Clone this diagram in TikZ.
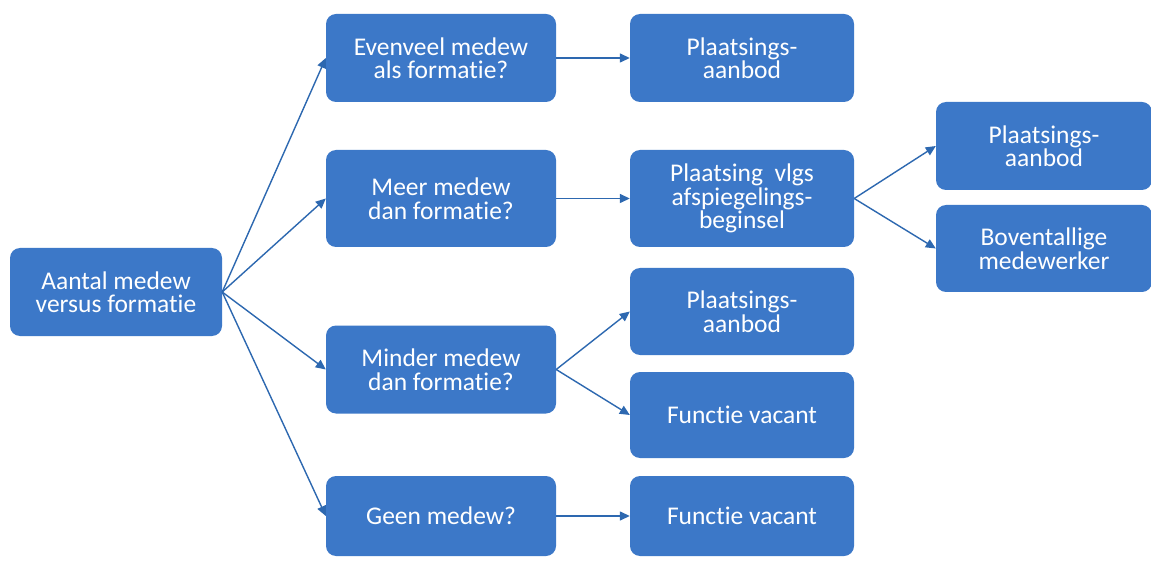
\documentclass[tikz,border=0pt]{standalone}
\usepackage{fontspec}
\setmainfont{Carlito}[Ligatures=NoCommon]
\usetikzlibrary{arrows.meta}
\definecolor{boxblue}{HTML}{3C78C8}
\definecolor{arrowblue}{HTML}{2D68B0}
\tikzset{
  box/.style={rectangle, rounded corners=10pt, fill=boxblue, text=white, align=center,
    font=\fontsize{25.5}{23.5}\selectfont, inner sep=0pt, minimum width=230pt, minimum height=88pt},
  conn/.style={arrowblue, line width=1.4pt, -{Triangle[length=10pt,width=9pt]}}
}
\begin{document}
\begin{tikzpicture}[x=1pt,y=-1pt]
\useasboundingbox[fill=white] (0,0) rectangle (1151,561);
\node[box, minimum width=212pt] (a) at (116,292) {Aantal medew\\versus formatie};
\node[box] (b1) at (441,58) {Evenveel medew\\als formatie?};
\node[box, minimum height=97pt] (b2) at (441,198.5) {Meer medew\\dan formatie?};
\node[box] (b3) at (441,369.5) {Minder medew\\dan formatie?};
\node[box, minimum height=80pt] (b4) at (441,516) {Geen medew?};
\node[box, minimum width=224pt] (c1) at (742,58) {Plaatsings-\\aanbod};
\node[box, minimum width=224pt, minimum height=97pt] (c2) at (742,198.5) {Plaatsing~ vlgs\\afspiegelings-\\beginsel};
\node[box, minimum width=224pt, minimum height=87pt] (c3) at (742,311.5) {Plaatsings-\\aanbod};
\node[box, minimum width=224pt, minimum height=86pt] (c4) at (742,415) {Functie vacant};
\node[box, minimum width=224pt, minimum height=80pt] (c5) at (742,516) {Functie vacant};
\node[box, minimum width=216pt] (d1) at (1044,146) {Plaatsings-\\aanbod};
\node[box, minimum width=216pt, minimum height=87pt] (d2) at (1044,248.5) {Boventallige\\medewerker};
\draw[conn] (a.east) -- (b1.west);
\draw[conn] (a.east) -- (b2.west);
\draw[conn] (a.east) -- (b3.west);
\draw[conn] (a.east) -- (b4.west);
\draw[conn] (b1.east) -- (c1.west);
\draw[conn] (b2.east) -- (c2.west);
\draw[conn] (b4.east) -- (c5.west);
\draw[conn] (b3.east) -- (c3.west);
\draw[conn] (b3.east) -- (c4.west);
\draw[conn] (c2.east) -- (d1.west);
\draw[conn] (c2.east) -- (d2.west);
\end{tikzpicture}
\end{document}
